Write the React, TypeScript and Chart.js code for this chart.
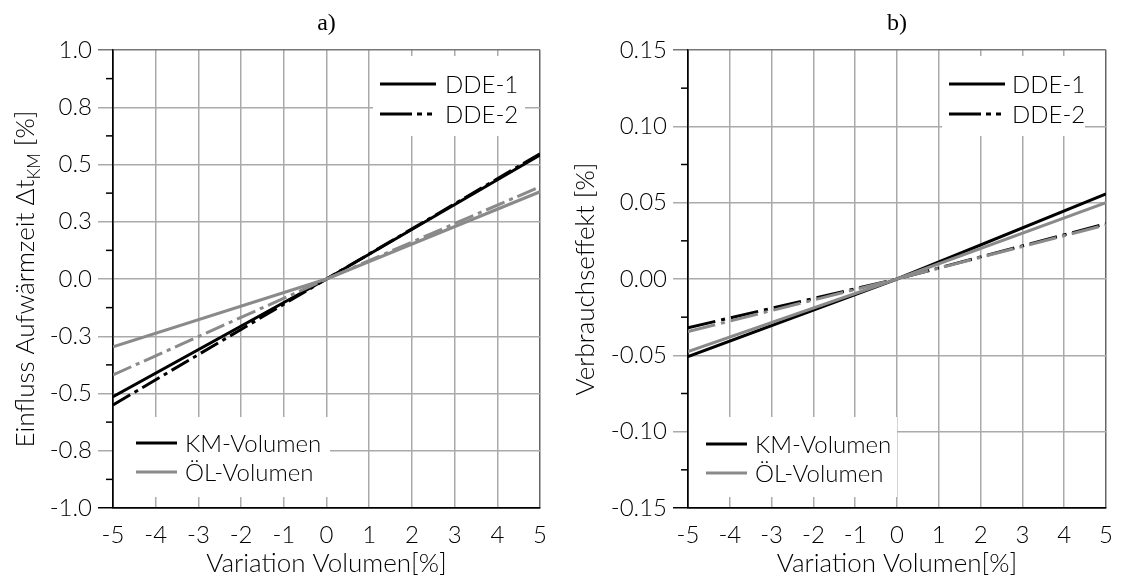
import React, { useEffect, useRef } from 'react';
import { Chart, registerables } from 'chart.js';

Chart.register(...registerables);

// ---------- data ----------
const xValues = [-5, 0, 5];
// Panel a) Einfluss Aufwärmzeit
const aKmDde1 = [-0.514, 0, 0.541];
const aKmDde2 = [-0.55, 0, 0.547];
const aOelDde1 = [-0.296, 0, 0.381];
const aOelDde2 = [-0.419, 0, 0.403];
// Panel b) Verbrauchseffekt
const bKmDde1 = [-0.0509, 0, 0.0557];
const bKmDde2 = [-0.0319, 0, 0.0362];
const bOelDde1 = [-0.0476, 0, 0.05];
const bOelDde2 = [-0.0345, 0, 0.0355];

const xTickValues = [-5, -4, -3, -2, -1, 0, 1, 2, 3, 4, 5];
const xTickLabels = ['-5', '-4', '-3', '-2', '-1', '0', '1', '2', '3', '4', '5'];
const aYTickValues = [-1, -0.75, -0.5, -0.25, 0, 0.25, 0.5, 0.75, 1];
const aYTickLabels = ['-1.0', '-0.8', '-0.5', '-0.3', '0.0', '0.3', '0.5', '0.8', '1.0'];
const bYTickValues = [-0.15, -0.1, -0.05, 0, 0.05, 0.1, 0.15];
const bYTickLabels = ['-0.15', '-0.10', '-0.05', '0.00', '0.05', '0.10', '0.15'];

const legendDde = ['DDE-1', 'DDE-2'];
const legendVol = ['KM-Volumen', 'ÖL-Volumen'];

// ---------- styles ----------
const BLACK = '#000000';
const GRAY = '#8a8a8a';
const GRID = '#aaaaaa';
const FONT = 'Lato';

type Box = { x: number; y: number; w: number; h: number; l1: number; l2: number; tx: number; rows: number[] };
type Panel = {
  title: string;
  yMain: string;
  ySub: string;
  ySuffix: string;
  yMin: number;
  yMax: number;
  yTicks: number[];
  yLabels: string[];
  km1: number[]; km2: number[]; oel1: number[]; oel2: number[];
  dash: number[];
  canvasW: number;
  left: number;
  axisW: number;
  padRight: number;
  top: Box;
  bottom: Box;
};

const panels: Panel[] = [
  {
    title: 'a)', yMain: 'Einfluss Aufwärmzeit Δt', ySub: 'KM', ySuffix: ' [%]',
    yMin: -1, yMax: 1, yTicks: aYTickValues, yLabels: aYTickLabels,
    km1: aKmDde1, km2: aKmDde2, oel1: aOelDde1, oel2: aOelDde2,
    dash: [20, 5, 4, 5],
    canvasW: 560, left: 0, axisW: 113, padRight: 18,
    top: { x: 373, y: 56, w: 152, h: 80, l1: 380, l2: 436, tx: 445, rows: [84, 114] },
    bottom: { x: 114, y: 417, w: 216, h: 80, l1: 136, l2: 177, tx: 185, rows: [443, 472] },
  },
  {
    title: 'b)', yMain: 'Verbrauchseffekt [%]', ySub: '', ySuffix: '',
    yMin: -0.15, yMax: 0.15, yTicks: bYTickValues, yLabels: bYTickLabels,
    km1: bKmDde1, km2: bKmDde2, oel1: bOelDde1, oel2: bOelDde2,
    dash: [28, 6, 4, 6],
    canvasW: 566, left: 560, axisW: 128, padRight: 12,
    top: { x: 382, y: 56, w: 143, h: 80, l1: 389, l2: 445, tx: 452, rows: [84, 114] },
    bottom: { x: 129, y: 417, w: 208, h: 80, l1: 146, l2: 187, tx: 195, rows: [444, 473] },
  },
];

function labelFor(values: number[], labels: string[], v: number) {
  const i = values.findIndex((t) => Math.abs(t - v) < 1e-9);
  return i >= 0 ? labels[i] : '';
}

function overlay(p: Panel) {
  return {
    id: 'overlay',
    beforeDatasetsDraw(chart: any) {
      const ctx = chart.ctx;
      ctx.save();
      ctx.fillStyle = '#ffffff';
      for (const b of [p.top, p.bottom]) ctx.fillRect(b.x, b.y, b.w, b.h);
      ctx.restore();
    },
    afterDraw(chart: any) {
      const ctx = chart.ctx as CanvasRenderingContext2D;
      const area = chart.chartArea;
      const ys = chart.scales.y;
      ctx.save();
      // minor ticks
      ctx.strokeStyle = BLACK;
      ctx.lineWidth = 1.5;
      for (let i = 0; i < p.yTicks.length - 1; i++) {
        const v = (p.yTicks[i] + p.yTicks[i + 1]) / 2;
        const py = ys.getPixelForValue(v);
        ctx.beginPath();
        ctx.moveTo(area.left - 7, py);
        ctx.lineTo(area.left, py);
        ctx.stroke();
      }
      // legends
      const drawItem = (b: Box, row: number, label: string, color: string, kind: 'solid' | 'dde2') => {
        ctx.save();
        ctx.strokeStyle = color;
        ctx.lineWidth = 3;
        ctx.lineCap = 'butt';
        if (kind === 'dde2') ctx.setLineDash([32, 5, 5, 5, 5, 200]);
        ctx.beginPath();
        ctx.moveTo(b.l1, b.rows[row]);
        ctx.lineTo(b.l2, b.rows[row]);
        ctx.stroke();
        ctx.restore();
        ctx.fillStyle = BLACK;
        ctx.font = `300 24px ${FONT}`;
        ctx.textAlign = 'left';
        ctx.textBaseline = 'middle';
        ctx.fillText(label, b.tx, b.rows[row] + 1);
      };
      drawItem(p.top, 0, legendDde[0], BLACK, 'solid');
      drawItem(p.top, 1, legendDde[1], BLACK, 'dde2');
      drawItem(p.bottom, 0, legendVol[0], BLACK, 'solid');
      drawItem(p.bottom, 1, legendVol[1], GRAY, 'solid');

      // panel title
      const cx = (area.left + area.right) / 2;
      ctx.fillStyle = BLACK;
      ctx.font = '24px "Liberation Serif"';
      ctx.textAlign = 'center';
      ctx.textBaseline = 'alphabetic';
      ctx.fillText(p.title, cx, 30);

      // x title
      ctx.font = `300 26px ${FONT}`;
      ctx.fillText('Variation Volumen[%]', cx, 572);

      // y title (rotated, with subscript)
      const cy = (area.top + area.bottom) / 2;
      const mainFont = `300 26px ${FONT}`;
      const subFont = `300 17px ${FONT}`;
      ctx.font = mainFont;
      const w1 = ctx.measureText(p.yMain).width;
      const w3 = p.ySuffix ? ctx.measureText(p.ySuffix).width : 0;
      ctx.font = subFont;
      const w2 = p.ySub ? ctx.measureText(p.ySub).width : 0;
      const total = w1 + w2 + w3;
      ctx.translate(34, cy);
      ctx.rotate(-Math.PI / 2);
      ctx.textAlign = 'left';
      let x0 = -total / 2;
      ctx.font = mainFont;
      ctx.fillText(p.yMain, x0, 0);
      x0 += w1;
      if (p.ySub) {
        ctx.font = subFont;
        ctx.fillText(p.ySub, x0, 6);
        x0 += w2;
      }
      if (p.ySuffix) {
        ctx.font = mainFont;
        ctx.fillText(p.ySuffix, x0, 0);
      }
      ctx.restore();
    },
  };
}

function makeDs(label: string, ys: number[], color: string, dash: number[], order: number) {
  return {
    label,
    data: xValues.map((x, i) => ({ x, y: ys[i] })),
    borderColor: color,
    backgroundColor: color,
    borderWidth: 3,
    borderDash: dash,
    borderCapStyle: 'butt',
    pointRadius: 0,
    fill: false,
    tension: 0,
    order,
  };
}

function PanelChart({ p }: { p: Panel }) {
  const ref = useRef<HTMLCanvasElement | null>(null);
  useEffect(() => {
    if (!ref.current) return;
    const chart = new Chart(ref.current, {
      type: 'line',
      data: {
        datasets: [
          makeDs('KM DDE-1', p.km1, BLACK, [], 4),
          makeDs('KM DDE-2', p.km2, BLACK, p.dash, 3),
          makeDs('ÖL DDE-1', p.oel1, GRAY, [], 2),
          makeDs('ÖL DDE-2', p.oel2, GRAY, p.dash, 1),
        ] as any,
      },
      options: {
        animation: false,
        responsive: false,
        maintainAspectRatio: false,
        layout: { padding: { top: 50, right: p.padRight, left: 0, bottom: 0 } },
        plugins: { legend: { display: false }, tooltip: { enabled: false }, title: { display: false } },
        scales: {
          x: {
            type: 'linear',
            min: -5,
            max: 5,
            afterBuildTicks: (s: any) => { s.ticks = xTickValues.map((v) => ({ value: v })); },
            afterFit: (s: any) => { s.height = 73; },
            ticks: {
              autoSkip: false,
              maxRotation: 0,
              padding: 13,
              color: BLACK,
              font: { family: FONT, size: 24, weight: '300' as any },
              callback: (v: any) => labelFor(xTickValues, xTickLabels, Number(v)),
            },
            grid: {
              drawTicks: false,
              lineWidth: 1.5,
              color: (c: any) => (c.tick && c.tick.value === -5 ? BLACK : c.tick && c.tick.value === 5 ? '#666666' : GRID),
            },
            border: { color: BLACK, width: 1.5 },
          },
          y: {
            type: 'linear',
            min: p.yMin,
            max: p.yMax,
            afterBuildTicks: (s: any) => { s.ticks = p.yTicks.map((v) => ({ value: v })); },
            afterFit: (s: any) => { s.width = p.axisW; },
            ticks: {
              autoSkip: false,
              padding: 6,
              color: BLACK,
              font: { family: FONT, size: 24, weight: '300' as any },
              callback: (v: any) => labelFor(p.yTicks, p.yLabels, Number(v)),
            },
            grid: {
              drawTicks: true,
              tickLength: 15,
              lineWidth: 1.5,
              color: (c: any) => (c.tick && Math.abs(c.tick.value - p.yMin) < 1e-9 ? BLACK : c.tick && Math.abs(c.tick.value - p.yMax) < 1e-9 ? '#777777' : GRID),
            },
            border: { color: BLACK, width: 1.5 },
          },
        },
      } as any,
      plugins: [overlay(p)],
    });
    return () => chart.destroy();
  }, [p]);
  return (
    <canvas
      ref={ref}
      width={p.canvasW}
      height={581}
      style={{ position: 'absolute', left: p.left, top: 0, width: p.canvasW, height: 581 }}
    />
  );
}

export default function App() {
  return (
    <div style={{ position: 'absolute', left: 0, top: 0, width: 1126, height: 581, background: '#ffffff', overflow: 'hidden' }}>
      {panels.map((p) => (
        <PanelChart key={p.title} p={p} />
      ))}
    </div>
  );
}
